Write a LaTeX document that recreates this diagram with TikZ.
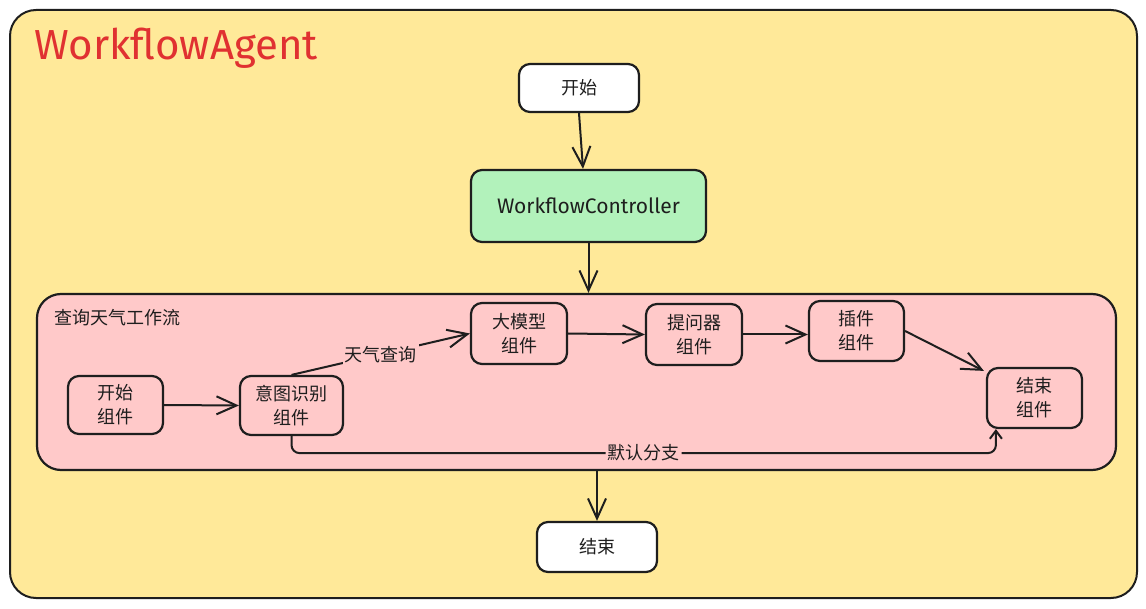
\documentclass[tikz,border=0pt]{standalone}
\usepackage{fontspec}
\setmainfont{Fira Sans}
\newfontfamily\cjk{Noto Sans CJK SC}
\usetikzlibrary{arrows.meta,calc}
\definecolor{ybg}{HTML}{FFE999}
\definecolor{pbg}{HTML}{FFC9C9}
\definecolor{gbg}{HTML}{B2F2BB}
\definecolor{tred}{HTML}{E03131}
\definecolor{ink}{HTML}{1E1E1E}
\tikzset{
  box/.style={draw=ink, line width=2.2pt, rounded corners=11pt, fill=white, align=center, inner sep=0pt, font=\cjk\fontsize{18}{24}\selectfont, text=ink},
  comp/.style={box, fill=pbg, minimum width=96pt, minimum height=60pt},
  arr/.style={draw=ink, line width=2pt, -{Straight Barb[length=20pt,width=18pt,line width=2pt]}},
  elabel/.style={fill=pbg, inner sep=2pt, font=\cjk\fontsize{18}{22}\selectfont, text=ink}
}
\begin{document}
\begin{tikzpicture}[x=1pt,y=-1pt]
\useasboundingbox (0,0) rectangle (1146,609);
% outer container
\node[draw=ink, line width=2pt, fill=ybg, rounded corners=26pt, minimum width=1127pt, minimum height=588pt, inner sep=0pt] (agent) at (573.5,304) {};
\node[anchor=west, text=tred, font=\fontsize{42}{44}\selectfont, inner sep=0pt] (title) at (34,48) {WorkflowAgent};
% top nodes
\node[box, minimum width=120pt, minimum height=48pt] (start) at (579,88) {开始};
\node[box, fill=gbg, minimum width=235pt, minimum height=72pt, font=\fontsize{21}{24}\selectfont] (ctrl) at (588.5,206) {WorkflowController};
% workflow container
\node[draw=ink, line width=2.2pt, fill=pbg, rounded corners=24pt, minimum width=1079pt, minimum height=176pt, inner sep=0pt] (flow) at (576.5,382) {};
\node[anchor=west, inner sep=0pt, font=\cjk\fontsize{18}{22}\selectfont, text=ink] (flowtitle) at (54,318) {查询天气工作流};
% components
\node[comp, minimum width=95pt, minimum height=58pt] (s) at (115.5,405) {开始\\组件};
\node[comp, minimum width=103pt, minimum height=59pt] (intent) at (291.5,405.5) {意图识别\\组件};
\node[comp, minimum width=96pt, minimum height=61pt] (llm) at (519,333.5) {大模型\\组件};
\node[comp, minimum width=96pt, minimum height=61pt] (ask) at (694,334.5) {提问器\\组件};
\node[comp, minimum width=95pt, minimum height=60pt] (plugin) at (856.5,331) {插件\\组件};
\node[comp, minimum width=95pt, minimum height=60pt] (endc) at (1034.5,398) {结束\\组件};
% end node
\node[box, minimum width=120pt, minimum height=50pt] (fin) at (597,547) {结束};
\coordinate (endin) at ($(endc.south west)+(10,0)$);
% edges
\draw[arr] (start.south) -- (ctrl.north -| 583,0);
\draw[arr] (ctrl.south) -- (ctrl.south |- flow.north);
\draw[arr] (s.east) -- (intent.west);
\draw[arr] (intent.north) -- node[elabel] {天气查询} (llm.west);
\draw[arr] (llm.east) -- (ask.west);
\draw[arr] (ask.east) -- (plugin.west |- ask.east);
\draw[arr] (plugin.east) -- ($(endc.north west)+(-2,4)$);
\draw[arr, rounded corners=8pt, -{Straight Barb[length=8pt,width=12pt,line width=2pt]}] (intent.south) -- ++(0,17) coordinate (d1) -- node[elabel] {默认分支} (d1 -| endin) -- (endin);
\draw[arr] (fin.north |- flow.south) -- (fin.north);
\end{tikzpicture}
\end{document}
